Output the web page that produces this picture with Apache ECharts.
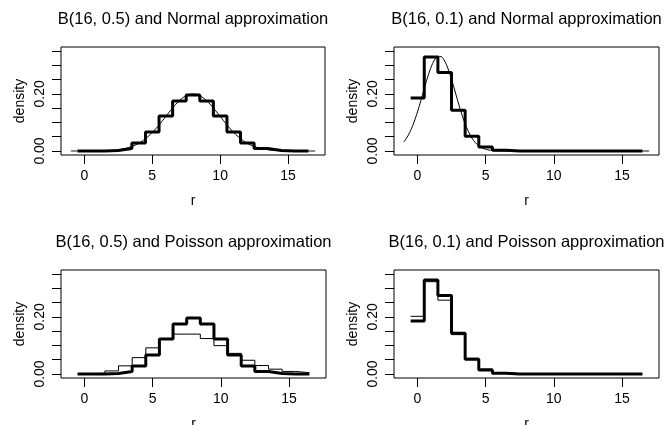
<!DOCTYPE html>
<html>
<head>
<meta charset="utf-8">
<script src="https://cdn.jsdelivr.net/npm/echarts@6/dist/echarts.min.js"></script>
<style>
  html, body { margin: 0; padding: 0; background: #fff; }
  #chart { width: 669px; height: 425px; }
</style>
</head>
<body>
<div id="chart"></div>
<script>
// Outcomes r = 0..16
const r = [0, 1, 2, 3, 4, 5, 6, 7, 8, 9, 10, 11, 12, 13, 14, 15, 16];

// Binomial probabilities
const binomHalf = [0.0000153, 0.000244, 0.00183, 0.00854, 0.0278, 0.0667, 0.1222, 0.1746, 0.1964,
                   0.1746, 0.1222, 0.0667, 0.0278, 0.00854, 0.00183, 0.000244, 0.0000153];
const binomTenth = [0.1853, 0.3294, 0.2745, 0.1423, 0.0514, 0.0137, 0.0028, 0.0004, 0.0001,
                    0, 0, 0, 0, 0, 0, 0, 0];

// Poisson probabilities (mean 8 and mean 1.6)
const poissonMean8 = [0.0003, 0.0027, 0.0107, 0.0286, 0.0573, 0.0916, 0.1221, 0.1396, 0.1396,
                      0.1241, 0.0993, 0.0722, 0.0481, 0.0296, 0.0169, 0.0090, 0.0045];
const poissonMean16 = [0.2019, 0.3230, 0.2584, 0.1378, 0.0551, 0.0176, 0.0047, 0.0011, 0.0002,
                       0, 0, 0, 0, 0, 0, 0, 0];

// Normal density, mean 8, sd 2
const normalX8 = [-1, -0.5, 0, 0.5, 1, 1.5, 2, 2.5, 3, 3.5, 4, 4.5, 5, 5.5, 6, 6.5, 7, 7.5, 8,
                  8.5, 9, 9.5, 10, 10.5, 11, 11.5, 12, 12.5, 13, 13.5, 14, 14.5, 15, 15.5, 16, 16.5, 17];
const normalY8 = [0.00001, 0.00002, 0.00007, 0.00018, 0.00044, 0.00102, 0.00222, 0.00455, 0.00876,
                  0.0159, 0.0270, 0.0432, 0.0648, 0.0913, 0.1210, 0.1506, 0.1760, 0.1934, 0.1995,
                  0.1934, 0.1760, 0.1506, 0.1210, 0.0913, 0.0648, 0.0432, 0.0270, 0.0159, 0.00876,
                  0.00455, 0.00222, 0.00102, 0.00044, 0.00018, 0.00007, 0.00002, 0.00001];

// Normal density, mean 1.6, sd 1.2
const normalX16 = [-1, -0.75, -0.5, -0.25, 0, 0.25, 0.5, 0.75, 1, 1.25, 1.5, 1.75, 2, 2.25, 2.5,
                   2.75, 3, 3.25, 3.5, 3.75, 4, 4.25, 4.5, 4.75, 5, 5.25, 5.5, 5.75, 6, 6.5, 7, 17];
const normalY16 = [0.0318, 0.0488, 0.0719, 0.1013, 0.1367, 0.1766, 0.2184, 0.2587, 0.2934, 0.3186,
                   0.3313, 0.3299, 0.3145, 0.2871, 0.2509, 0.2100, 0.1683, 0.1292, 0.0949, 0.0668,
                   0.0450, 0.0290, 0.0179, 0.0106, 0.0060, 0.0033, 0.0017, 0.0008, 0.0004, 0.0001,
                   0, 0];

// Axis ticks and labels
const xTicks = [0, 5, 10, 15];
const yTicks = [0, 0.05, 0.10, 0.15, 0.20, 0.25, 0.30, 0.35];
const yLabels = [0, 0.20];

const panelTitles = [
  'B(16, 0.5) and Normal approximation',
  'B(16, 0.1) and Normal approximation',
  'B(16, 0.5) and Poisson approximation',
  'B(16, 0.1) and Poisson approximation'
];

const FONT = '"Liberation Sans", Arial, Helvetica, sans-serif';

// Panel boxes
const boxes = [
  { left: 61, top: 47, width: 264, height: 108 },
  { left: 394, top: 47, width: 265, height: 108 },
  { left: 61, top: 270, width: 265, height: 108 },
  { left: 394, top: 270, width: 265, height: 108 }
];

// Step outline: each probability spans [k - 0.5, k + 0.5]
function stepData(p) {
  const pts = r.map((k, i) => [k - 0.5, p[i]]);
  pts.push([r[r.length - 1] + 0.5, p[p.length - 1]]);
  return pts;
}
function pairs(xs, ys) { return xs.map((x, i) => [x, ys[i]]); }

// Fixed plot boxes: labels may run past the canvas edge (the bottom "r" is clipped)
const grids = boxes.map(b => ({
  left: b.left, top: b.top, width: b.width, height: b.height,
  show: true, borderColor: '#000', borderWidth: 1, backgroundColor: 'transparent',
  containLabel: false, outerBoundsMode: 'none'
}));

const xAxes = boxes.map((b, i) => ({
  type: 'value', gridIndex: i, min: -1.72, max: 17.72, position: 'bottom',
  name: 'r', nameLocation: 'middle', nameGap: 39,
  nameTextStyle: { fontFamily: FONT, fontSize: 14, color: '#000' },
  axisLine: { show: false, onZero: false },
  splitLine: { show: false },
  axisTick: { show: true, inside: false, length: 9, customValues: xTicks,
              lineStyle: { color: '#000', width: 1 } },
  axisLabel: { show: true, customValues: xTicks, margin: 14,
               fontFamily: FONT, fontSize: 14, color: '#000' }
}));

const yAxes = boxes.map((b, i) => ({
  type: 'value', gridIndex: i, min: -0.014, max: 0.364, position: 'left',
  name: 'density', nameLocation: 'middle', nameGap: 34, nameRotate: 90,
  nameTextStyle: { fontFamily: FONT, fontSize: 14, color: '#000' },
  axisLine: { show: false, onZero: false },
  splitLine: { show: false },
  axisTick: { show: true, inside: false, length: 9, customValues: yTicks,
              lineStyle: { color: '#000', width: 1 } },
  axisLabel: { show: true, customValues: yLabels, rotate: 90, margin: 14,
               formatter: v => v.toFixed(2),
               fontFamily: FONT, fontSize: 14, color: '#000' }
}));

function thick(i, p) {
  return { type: 'line', xAxisIndex: i, yAxisIndex: i, step: 'end', data: stepData(p),
           symbol: 'none', silent: true, lineStyle: { color: '#000', width: 3 }, z: 3 };
}
function thinStep(i, p) {
  return { type: 'line', xAxisIndex: i, yAxisIndex: i, step: 'end', data: stepData(p),
           symbol: 'none', silent: true, lineStyle: { color: '#000', width: 1 }, z: 4 };
}
function curve(i, xs, ys) {
  return { type: 'line', xAxisIndex: i, yAxisIndex: i, data: pairs(xs, ys),
           smooth: 0.4,
           symbol: 'none', silent: true, lineStyle: { color: '#000', width: 1 }, z: 4 };
}

const series = [
  thick(0, binomHalf), curve(0, normalX8, normalY8),
  thick(1, binomTenth), curve(1, normalX16, normalY16),
  thick(2, binomHalf), thinStep(2, poissonMean8),
  thick(3, binomTenth), thinStep(3, poissonMean16)
];

const titles = boxes.map((b, i) => ({
  type: 'text', x: b.left + b.width / 2, y: b.top - 28,
  style: { text: panelTitles[i], textAlign: 'center', textVerticalAlign: 'middle',
           fontFamily: FONT, fontSize: 16.5, fill: '#000' }
}));

const chart = echarts.init(document.getElementById('chart'), null, { renderer: 'canvas' });
chart.setOption({
  animation: false,
  backgroundColor: '#fff',
  grid: grids,
  xAxis: xAxes,
  yAxis: yAxes,
  series: series,
  graphic: titles
});
</script>
</body>
</html>
